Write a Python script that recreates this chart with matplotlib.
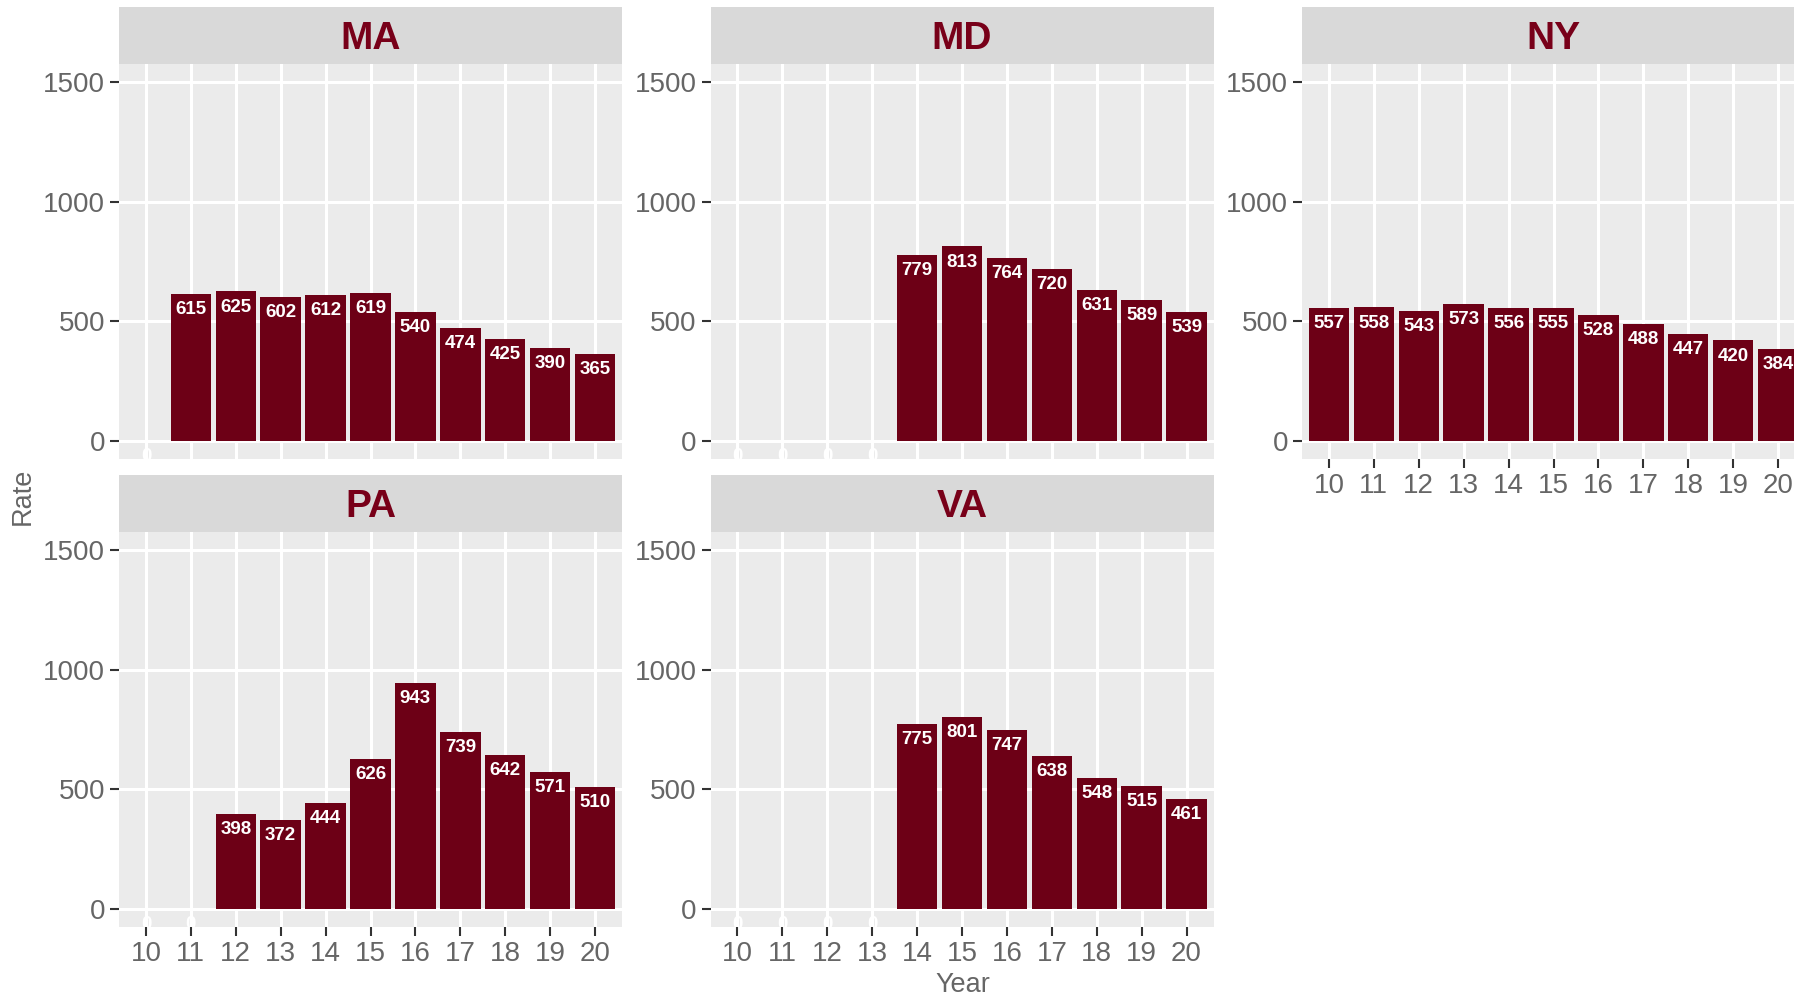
import numpy as np
import matplotlib
matplotlib.use('Agg')
import matplotlib.pyplot as plt

plt.rcParams['font.family'] = ['Liberation Sans', 'DejaVu Sans']

years = np.arange(10, 21)
states = ['MA', 'MD', 'NY', 'PA', 'VA']
ma = [0, 615, 625, 602, 612, 619, 540, 474, 425, 390, 365]
md = [0, 0, 0, 0, 779, 813, 764, 720, 631, 589, 539]
ny = [557, 558, 543, 573, 556, 555, 528, 488, 447, 420, 384]
pa = [0, 0, 398, 372, 444, 626, 943, 739, 642, 571, 510]
va = [0, 0, 0, 0, 775, 801, 747, 638, 548, 515, 461]
rates = [ma, md, ny, pa, va]
yticks = [0, 500, 1000, 1500]

bar_col = '#6D0016'
strip_txt = '#780019'
panel_bg = '#EBEBEB'
strip_bg = '#D9D9D9'
tick_txt = '#666666'

W, H = 1794, 997
fig = plt.figure(figsize=(W / 100, H / 100), dpi=100)

# pixel layout of the facet grid (the right column runs past the edge)
col_left = [119, 710.5, 1302]
panel_w = 503
rows = [(7, 64, 459), (475, 532, 927)]  # strip top, panel top, panel bottom


def fbox(left, top, width, bottom):
    return [left / W, 1 - bottom / H, width / W, (bottom - top) / H]


lab_fs = 13.5
strip_fs = 28
for i, (st, vals) in enumerate(zip(states, rates)):
    r, c = divmod(i, 3)
    s_top, p_top, p_bot = rows[r]
    ax = fig.add_axes(fbox(col_left[c], p_top, panel_w, p_bot))
    ax.set_facecolor(panel_bg)
    ax.bar(years, vals, width=0.9, color=bar_col, zorder=3)
    for x, v in zip(years, vals):
        ax.annotate(str(v), (x, v), xytext=(0, -1.5 * 0.716 * lab_fs),
                    textcoords='offset points', ha='center', va='baseline',
                    color='white', fontweight='bold', fontsize=lab_fs,
                    clip_on=True, zorder=4)
    ax.set_xlim(9.4, 20.6)
    ax.set_ylim(-75, 1575)
    ax.set_xticks(years)
    ax.set_yticks(yticks)
    ax.grid(True, color='white', linewidth=2.2, zorder=0)
    ax.set_axisbelow(True)
    for sp in ax.spines.values():
        sp.set_visible(False)
    show_x = (r == 1) or (c == 2)
    ax.tick_params(axis='y', length=6.5, width=1.5, color='#333333',
                   labelsize=20, labelcolor=tick_txt, pad=3.5)
    if show_x:
        ax.tick_params(axis='x', length=6.5, width=1.5, color='#333333',
                       labelsize=20, labelcolor=tick_txt, pad=3.5)
    else:
        ax.tick_params(axis='x', length=0, labelbottom=False)

    sax = fig.add_axes(fbox(col_left[c], s_top, panel_w, p_top))
    sax.set_facecolor(strip_bg)
    sax.set_xticks([])
    sax.set_yticks([])
    for sp in sax.spines.values():
        sp.set_visible(False)
    # put the capitals' middle on the strip's middle
    cap_px = 0.716 * strip_fs * 100 / 72
    sax.text(0.5, 0.5 - cap_px / 2 / (p_top - s_top), st,
             transform=sax.transAxes, ha='center', va='baseline',
             fontsize=strip_fs, fontweight='bold', color=strip_txt)

fig.text(963 / W, 1 - 985 / H, 'Year', ha='center', va='center',
         fontsize=19.5, color=tick_txt)
fig.text(23 / W, 1 - 496 / H, 'Rate', ha='center', va='center',
         rotation=90, fontsize=19.5, color=tick_txt)

fig.savefig('out.png', dpi=100)
